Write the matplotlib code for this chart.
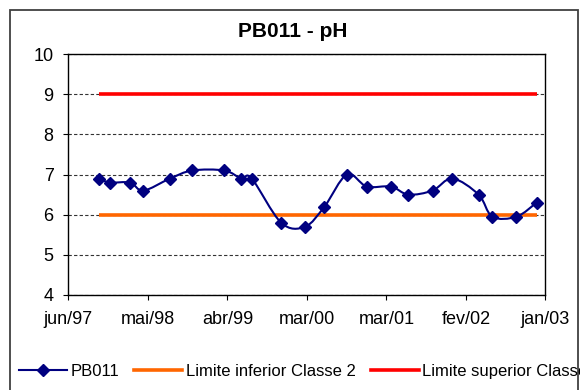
import matplotlib
matplotlib.use("Agg")
import matplotlib.pyplot as plt
import matplotlib.dates as mdates
from matplotlib.path import Path
from matplotlib.patches import PathPatch, Rectangle
from matplotlib.lines import Line2D
import numpy as np

plt.rcParams['font.family'] = ['Liberation Sans', 'DejaVu Sans']

# medições de pH no ponto PB011
datas = ["1997-10-19", "1997-12-05", "1998-03-01", "1998-04-27", "1998-08-19",
         "1998-11-22", "1999-04-08", "1999-06-19", "1999-08-03", "1999-12-07",
         "2000-03-18", "2000-06-09", "2000-09-13", "2000-12-07", "2001-03-20",
         "2001-06-03", "2001-09-14", "2001-12-08", "2002-03-30", "2002-05-28",
         "2002-09-08", "2002-12-03"]
ph = [6.9, 6.8, 6.8, 6.6, 6.9, 7.1, 7.1, 6.9, 6.9, 5.8, 5.7,
      6.2, 7.0, 6.7, 6.7, 6.5, 6.6, 6.9, 6.5, 5.95, 5.95, 6.3]

limite_inferior = 6
limite_superior = 9

# eixo x: início em 10/06/1997, marcas a cada 340 dias
inicio_eixo = "1997-06-10"
passo_dias = 340
rotulos_x = ["jun/97", "mai/98", "abr/99", "mar/00", "mar/01", "fev/02", "jan/03"]
marcas_y = [4, 5, 6, 7, 8, 9, 10]

azul = "#000080"
laranja = "#FF6600"
vermelho = "#FF0000"

x = mdates.datestr2num(datas)
y = np.array(ph, dtype=float)
x0 = mdates.datestr2num(inicio_eixo)
marcas_x = x0 + passo_dias * np.arange(len(rotulos_x))

fig = plt.figure(figsize=(5.8, 3.9), dpi=100)
ax = fig.add_axes([0.1178, 0.2436, 0.8227, 0.6179])

# moldura do gráfico
fig.patches.append(Rectangle((10 / 580, -0.1), 567.7 / 580, 1.1 - 10 / 390,
                             transform=fig.transFigure, fill=False,
                             edgecolor="#404040", lw=1.3))

# linha suavizada (curva de Bezier tipo Catmull-Rom)
pts = np.column_stack([x, y])
verts = [pts[0]]
codes = [Path.MOVETO]
for i in range(len(pts) - 1):
    p0 = pts[i - 1] if i > 0 else pts[i]
    p1 = pts[i]
    p2 = pts[i + 1]
    p3 = pts[i + 2] if i + 2 < len(pts) else pts[i + 1]
    c1 = p1 + (p2 - p0) / 6
    c2 = p2 - (p3 - p1) / 6
    verts += [c1, c2, p2]
    codes += [Path.CURVE4] * 3
ax.add_patch(PathPatch(Path(verts, codes), fill=False, edgecolor=azul,
                       lw=1.5, zorder=4))

ax.plot([x[0], x[-1]], [limite_inferior] * 2, color=laranja, lw=2.6,
        solid_capstyle="butt", zorder=3)
ax.plot([x[0], x[-1]], [limite_superior] * 2, color=vermelho, lw=2.6,
        solid_capstyle="butt", zorder=3)
ax.plot(x, y, linestyle="none", marker="D", markersize=6.5, color=azul,
        zorder=5)

ax.set_xlim(marcas_x[0], marcas_x[-1])
ax.set_ylim(4, 10)
ax.set_xticks(marcas_x)
ax.set_xticklabels(rotulos_x)
ax.set_yticks(marcas_y)
ax.tick_params(direction="out", length=3.6, width=0.8, labelsize=13,
               colors="black")
ax.tick_params(axis="y", pad=7)
ax.tick_params(axis="x", pad=8)
for s in ax.spines.values():
    s.set_linewidth(1.0)
    s.set_color("black")
ax.grid(axis="y", color="#333333", linestyle=(0, (3, 2)), lw=0.8)
ax.set_axisbelow(True)

fig.text(0.505, 0.905, "PB011 - pH", ha="center", va="baseline",
         fontsize=15, fontweight="bold")

handles = [
    Line2D([], [], color=azul, lw=1.5, marker="D", markersize=6.5),
    Line2D([], [], color=laranja, lw=2.6),
    Line2D([], [], color=vermelho, lw=2.6),
]
labels = ["PB011", "Limite inferior Classe 2", "Limite superior Classe 2"]
fig.legend(handles, labels, loc="center left", bbox_to_anchor=(0.032, 0.0477),
           ncol=3, frameon=False, fontsize=12, handlelength=2.9,
           handletextpad=0.2, columnspacing=0.9, borderpad=0,
           borderaxespad=0)

fig.savefig("out.png", dpi=100)
